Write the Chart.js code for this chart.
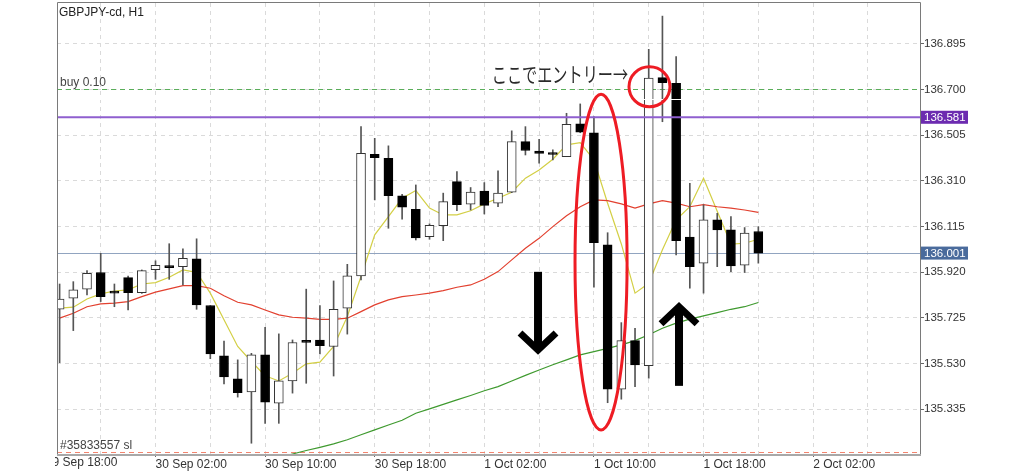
<!DOCTYPE html>
<html>
<head>
<meta charset="utf-8">
<script src="https://cdn.jsdelivr.net/npm/chart.js@4.4.0/dist/chart.umd.min.js"></script>
<style>
  html, body { margin: 0; padding: 0; background: #fff; }
</style>
</head>
<body>
<canvas id="c" width="1024" height="473"></canvas>
<script>
// GBPJPY H1 candles, 29 Sep 19:00 .. 1 Oct 22:00 (bar index = hour from first candle)
const opens  = [135.761,135.808,135.847,135.918,135.834,135.896,135.832,135.930,135.942,135.943,
                135.976,135.777,135.562,135.464,135.408,135.567,135.360,135.455,135.623,135.630,
                135.602,135.766,135.904,136.423,136.406,136.245,136.188,136.071,136.118,136.306,
                136.210,136.266,136.214,136.261,136.477,136.437,136.424,136.413,136.553,136.515,
                136.036,135.420,135.627,135.520,136.750,136.726,136.069,135.958,136.143,136.100,
                135.949,136.093];
const highs  = [135.869,135.879,135.926,136.000,135.869,135.903,135.929,135.968,136.041,136.019,
                136.062,135.777,135.625,135.545,135.573,135.684,135.656,135.630,135.847,135.777,
                135.882,135.953,136.541,136.491,136.459,136.252,136.292,136.126,136.257,136.349,
                136.281,136.302,136.352,136.523,136.541,136.487,136.442,136.598,136.638,136.584,
                136.088,135.704,135.680,136.871,137.013,136.840,136.299,136.207,136.171,136.157,
                136.110,136.114];
const lows   = [135.533,135.670,135.822,135.794,135.772,135.758,135.829,135.889,135.889,135.865,
                135.761,135.550,135.442,135.386,135.189,135.274,135.274,135.403,135.445,135.570,
                135.476,135.655,135.886,136.228,136.107,136.146,136.057,136.060,136.054,136.182,
                136.185,136.168,136.199,136.259,136.420,136.385,136.399,136.413,136.515,135.855,
                135.362,135.377,135.431,135.467,136.562,135.993,135.851,135.830,135.943,135.922,
                135.918,135.958];
const closes = [135.805,135.844,135.915,135.815,135.830,135.832,135.926,135.949,135.939,135.979,
                135.780,135.570,135.472,135.405,135.567,135.364,135.455,135.619,135.620,135.606,
                135.761,135.904,136.427,136.409,136.246,136.197,136.066,136.120,136.221,136.208,
                136.261,136.205,136.257,136.477,136.439,136.427,136.422,136.551,136.517,136.045,
                135.420,135.627,135.523,136.748,136.729,136.054,135.943,136.143,136.100,135.946,
                136.086,136.001];

// moving averages as drawn on the chart
const maFast = [135.766,135.770,135.805,135.827,135.839,135.844,135.869,135.875,135.898,135.929,
                135.919,135.830,135.716,135.602,135.538,135.477,135.455,135.488,135.528,135.535,
                135.602,135.730,135.901,136.079,136.157,136.235,136.268,136.193,136.164,136.164,
                136.182,136.211,136.235,136.261,136.321,136.356,136.402,136.463,136.473,136.399,
                136.214,136.040,135.830,135.872,136.015,136.143,136.199,136.321,136.180,136.039,
                136.043,136.060];
const maMid  = [135.723,135.744,135.772,135.784,135.787,135.794,135.815,135.834,135.848,135.862,
                135.862,135.851,135.819,135.791,135.780,135.758,135.737,135.727,135.723,135.718,
                135.718,135.723,135.751,135.780,135.801,135.815,135.822,135.830,135.841,135.855,
                135.865,135.889,135.922,135.972,136.022,136.064,136.114,136.160,136.199,136.228,
                136.225,136.211,136.193,136.211,136.225,136.214,136.199,136.208,136.199,136.193,
                136.185,136.175];
const maSlowStart = 16;
const maSlow = [135.126,135.143,135.158,135.171,135.186,135.204,135.225,135.246,135.267,135.287,
                135.317,135.336,135.355,135.374,135.393,135.413,135.431,135.455,135.479,135.502,
                135.524,135.545,135.566,135.580,135.594,135.609,135.627,135.652,135.680,135.702,
                135.719,135.733,135.747,135.761,135.772,135.790];

// axis ticks
const yTicks = [135.335,135.530,135.725,135.920,136.115,136.310,136.505,136.700,136.895];
const xTickBars = [7,15,23,31,39,47,55];
const xTickLabels = ['30 Sep 02:00','30 Sep 10:00','30 Sep 18:00','1 Oct 02:00','1 Oct 10:00','1 Oct 18:00','2 Oct 02:00'];
const xClippedBar = -1, xClippedLabel = '29 Sep 18:00';

// levels
const buyPrice = 136.700, buyLabel = 'buy 0.10';
const linePrice = 136.581;
const bidPrice = 136.001;
const askPrice = 136.658;
const slPrice = 135.153, slLabel = '#35833557 sl';
const title = 'GBPJPY-cd, H1';
const entryText = 'ここでエントリー→';

const xLabelAt = {};
xTickBars.forEach((b, k) => { xLabelAt[b] = xTickLabels[k]; });

const FONT = '"Liberation Sans", Arial, sans-serif';
Chart.defaults.font.family = FONT;
Chart.defaults.color = '#333';

const isUp = i => closes[i] >= opens[i];

const overlay = {
  id: 'overlay',
  beforeDatasetsDraw(chart) {
    const { ctx, chartArea: a, scales: { y } } = chart;
    const hline = (p, color, w, dash) => {
      const yy = Math.round(y.getPixelForValue(p)) + 0.5;
      ctx.strokeStyle = color; ctx.lineWidth = w; ctx.setLineDash(dash);
      ctx.beginPath(); ctx.moveTo(a.left, yy); ctx.lineTo(a.right, yy); ctx.stroke();
    };
    ctx.save();
    hline(buyPrice, '#5aae5a', 1, [5, 4]);
    hline(bidPrice, '#91a4c0', 1, []);
    hline(slPrice, '#f2846e', 1, [5, 4]);
    ctx.restore();
  },
  afterDatasetsDraw(chart) {
    const { ctx, chartArea: a, scales: { y } } = chart;
    ctx.save();
    let yy = Math.round(y.getPixelForValue(askPrice)) + 0.5;
    ctx.strokeStyle = '#ffffff'; ctx.lineWidth = 1;
    ctx.beginPath(); ctx.moveTo(a.left, yy); ctx.lineTo(a.right, yy); ctx.stroke();
    yy = y.getPixelForValue(linePrice);
    ctx.strokeStyle = '#8f5fcf'; ctx.lineWidth = 2;
    ctx.beginPath(); ctx.moveTo(a.left, yy); ctx.lineTo(a.right, yy); ctx.stroke();
    ctx.restore();
  },
  afterDraw(chart) {
    const { ctx, chartArea: a, scales: { x, y } } = chart;
    ctx.save();
    // frame
    ctx.strokeStyle = '#7a7a7a'; ctx.lineWidth = 1;
    ctx.beginPath();
    ctx.moveTo(a.left + 0.5, a.bottom); ctx.lineTo(a.left + 0.5, a.top - 0.5);
    ctx.lineTo(a.right + 0.5, a.top - 0.5); ctx.lineTo(a.right + 0.5, a.bottom);
    ctx.stroke();
    ctx.strokeStyle = '#a8a8a8'; ctx.lineWidth = 2;
    ctx.beginPath(); ctx.moveTo(a.left, a.bottom + 1); ctx.lineTo(a.right + 1, a.bottom + 1); ctx.stroke();

    // price boxes on the axis
    const box = (p, fill) => {
      const yy = y.getPixelForValue(p);
      ctx.fillStyle = fill; ctx.fillRect(a.right + 1, yy - 6.5, 47, 13);
      ctx.fillStyle = '#fff'; ctx.font = '11.5px ' + FONT;
      ctx.textAlign = 'left'; ctx.textBaseline = 'middle';
      ctx.fillText(p.toFixed(3), a.right + 4, yy + 0.5);
    };
    box(linePrice, '#6c2bb0');
    box(bidPrice, '#4a6b9c');

    // texts inside the plot
    ctx.textAlign = 'left'; ctx.textBaseline = 'alphabetic';
    ctx.fillStyle = '#222'; ctx.font = '12px ' + FONT;
    ctx.fillText(title, a.left + 2, a.top + 13);
    ctx.fillStyle = '#444'; ctx.font = '12px ' + FONT;
    ctx.fillText(buyLabel, a.left + 3, y.getPixelForValue(buyPrice) - 3);
    ctx.fillText(slLabel, a.left + 3, y.getPixelForValue(slPrice) - 3);

    // clipped first time label
    ctx.save();
    ctx.beginPath(); ctx.rect(55, a.bottom, 200, 20); ctx.clip();
    ctx.fillStyle = '#333'; ctx.font = '12px ' + FONT; ctx.textBaseline = 'top';
    ctx.fillText(xClippedLabel, x.getPixelForValue(xClippedBar), a.bottom + 3);
    ctx.restore();

    // annotations
    ctx.strokeStyle = '#ee1c24'; ctx.lineWidth = 3;
    const ex1 = x.getPixelForValue(37.62), ex2 = x.getPixelForValue(41.42);
    const ey1 = y.getPixelForValue(136.679), ey2 = y.getPixelForValue(135.246);
    ctx.beginPath();
    ctx.ellipse((ex1 + ex2) / 2, (ey1 + ey2) / 2, (ex2 - ex1) / 2, (ey2 - ey1) / 2, 0, 0, Math.PI * 2);
    ctx.stroke();
    const cx1 = x.getPixelForValue(41.56), cx2 = x.getPixelForValue(44.55);
    const cy1 = y.getPixelForValue(136.797), cy2 = y.getPixelForValue(136.626);
    ctx.beginPath();
    ctx.ellipse((cx1 + cx2) / 2, (cy1 + cy2) / 2, (cx2 - cx1) / 2, (cy2 - cy1) / 2, 0, 0, Math.PI * 2);
    ctx.stroke();

    // entry note, squeezed horizontally to the reference width
    ctx.save();
    ctx.fillStyle = '#2a2a2a'; ctx.font = '21px "Noto Sans CJK JP", sans-serif';
    ctx.textBaseline = 'middle';
    const tx1 = x.getPixelForValue(31.54), tx2 = x.getPixelForValue(41.5);
    const sx = (tx2 - tx1) / ctx.measureText(entryText).width;
    ctx.translate(tx1, y.getPixelForValue(136.764));
    ctx.scale(sx, 1);
    ctx.fillText(entryText, 0, 0);
    ctx.restore();

    const arrow = (bar, tailP, tipP) => {
      const cx = x.getPixelForValue(bar);
      const yt = y.getPixelForValue(tailP), yp = y.getPixelForValue(tipP);
      const d = yp > yt ? 1 : -1;
      ctx.fillStyle = '#000'; ctx.strokeStyle = '#000';
      const s = yp - d * 5;
      ctx.fillRect(cx - 4, Math.min(yt, s), 8, Math.abs(s - yt));
      ctx.lineWidth = 7; ctx.lineJoin = 'miter'; ctx.lineCap = 'butt';
      ctx.beginPath();
      ctx.moveTo(cx - 18, yp - d * 22); ctx.lineTo(cx, yp - d * 5); ctx.lineTo(cx + 18, yp - d * 22);
      ctx.stroke();
    };
    arrow(34.92, 135.921, 135.566);
    arrow(45.21, 135.434, 135.793);
    ctx.restore();
  }
};

const ctx = document.getElementById('c').getContext('2d');
new Chart(ctx, {
  type: 'bar',
  data: {
    datasets: [
      {
        label: 'body',
        data: opens.map((o, i) => ({ x: i, y: [o, closes[i]] })),
        backgroundColor: c => isUp(c.dataIndex) ? '#ffffff' : '#000000',
        borderColor: c => isUp(c.dataIndex) ? '#333333' : '#000000',
        borderWidth: 1,
        borderSkipped: false,
        barThickness: 9,
        minBarLength: 2,
        grouped: false,
        order: 0
      },
      {
        label: 'wick',
        data: highs.map((h, i) => ({ x: i, y: [lows[i], h] })),
        backgroundColor: '#555555',
        barThickness: 1,
        grouped: false,
        order: 1
      },
      {
        type: 'line', label: 'MA slow',
        data: maSlow.map((v, k) => ({ x: maSlowStart + k, y: v })),
        borderColor: '#3f9a2f', borderWidth: 1.2, pointRadius: 0, tension: 0, order: 2
      },
      {
        type: 'line', label: 'MA mid',
        data: maMid.map((v, i) => ({ x: i, y: v })),
        borderColor: '#e2402f', borderWidth: 1.2, pointRadius: 0, tension: 0, order: 2
      },
      {
        type: 'line', label: 'MA fast',
        data: maFast.map((v, i) => ({ x: i, y: v })),
        borderColor: '#d3cf45', borderWidth: 1.2, pointRadius: 0, tension: 0, order: 2
      }
    ]
  },
  options: {
    responsive: false,
    animation: false,
    devicePixelRatio: 1,
    layout: { padding: { left: 57, top: 3, right: 0, bottom: 0 } },
    plugins: { legend: { display: false }, tooltip: { enabled: false } },
    scales: {
      x: {
        type: 'linear', min: -0.19, max: 62.8, bounds: 'data', offset: false,
        afterBuildTicks: s => {
          const t = [];
          for (let b = 3; b <= 62; b += 4) t.push({ value: b });
          s.ticks = t;
        },
        afterFit: s => { s.height = 19; s.paddingLeft = 0; s.paddingRight = 0; },
        grid: {
          color: '#dadada', lineWidth: 1, offset: false,
          drawTicks: true, tickLength: 3, tickBorderDash: [],
          tickColor: c => (c.tick && xLabelAt[c.tick.value]) ? '#666' : 'rgba(0,0,0,0)'
        },
        border: { display: false, dash: [4, 4] },
        ticks: {
          autoSkip: false, maxRotation: 0, minRotation: 0, align: 'start', padding: 0,
          color: '#333', font: { size: 12 },
          callback: v => xLabelAt[v] || ''
        }
      },
      y: {
        position: 'right', min: 135.143, max: 137.069, bounds: 'data',
        afterBuildTicks: s => { s.ticks = yTicks.map(v => ({ value: v })); },
        afterFit: s => { s.width = 104; s.paddingTop = 0; s.paddingBottom = 0; },
        grid: { color: '#dadada', lineWidth: 1, drawTicks: true, tickLength: 4, tickColor: '#666', tickBorderDash: [] },
        border: { display: false, dash: [4, 4] },
        ticks: { padding: 0, color: '#333', font: { size: 11.5 }, callback: v => v.toFixed(3) }
      }
    }
  },
  plugins: [overlay]
});
</script>
</body>
</html>
